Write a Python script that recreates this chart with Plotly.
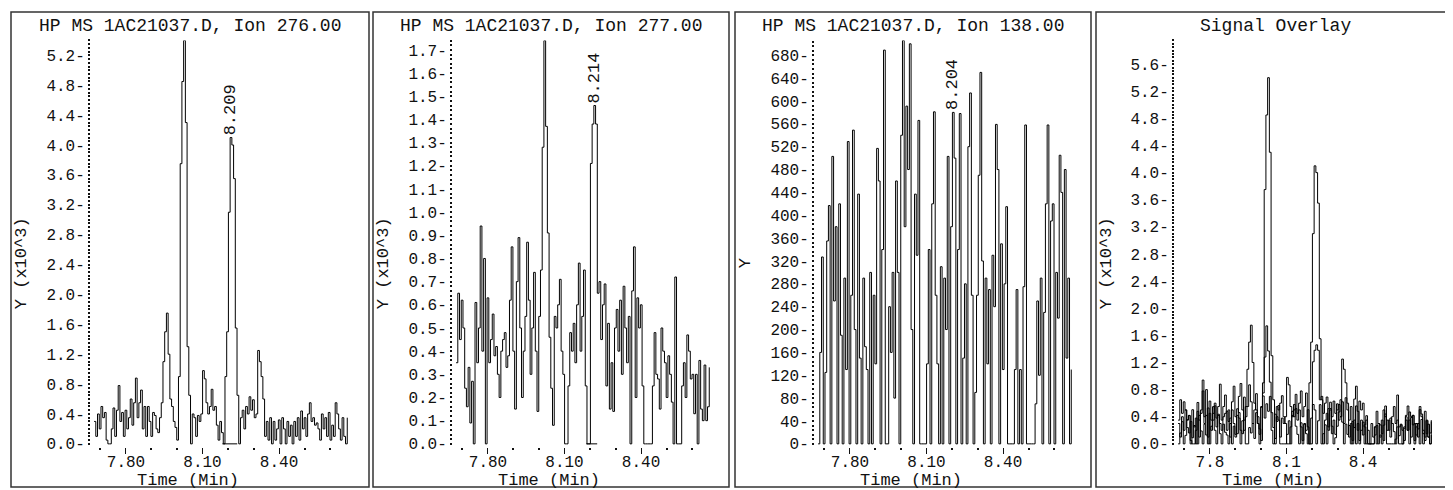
import plotly.graph_objects as go

# ---------------- data ----------------
t_start = 7.675        # first scan time (min)
t_step = 0.00675       # scan interval (min)

ion276 = [  # x10^3 counts
    0.3, 0.1, 0.4, 0.2, 0.5, 0.35, 0.42, 0.05, 0.0, 0.0,
    0.2, 0.48, 0.1, 0.45, 0.78, 0.3, 0.42, 0.1, 0.45, 0.2,
    0.35, 0.6, 0.25, 0.55, 0.88, 0.35, 0.55, 0.72, 0.2, 0.5,
    0.1, 0.5, 0.3, 0.1, 0.42, 0.38, 0.2, 0.15, 0.35, 0.55,
    1.1, 1.5, 1.75, 1.2, 0.6, 0.5, 0.3, 0.22, 0.05, 0.9,
    3.75, 4.85, 5.4, 4.3, 1.3, 0.65, 0.0, 0.4, 0.35, 0.1,
    0.38, 0.3, 0.4, 0.98, 0.87, 0.55, 0.4, 0.5, 0.73, 0.45,
    0.5, 0.25, 0.05, 0.3, 0.15, 0.0, 0.9, 1.5, 3.1, 4.1,
    4.0, 3.55, 1.55, 0.65, 0.0, 0.35, 0.45, 0.2, 0.5, 0.4,
    0.63, 0.45, 0.59, 0.35, 0.4, 1.25, 1.1, 0.9, 0.6, 0.1,
    0.3, 0.05, 0.35, 0.0, 0.3, 0.05, 0.2, 0.32, 0.0, 0.35,
    0.2, 0.0, 0.3, 0.1, 0.25, 0.0, 0.3, 0.1, 0.35, 0.05,
    0.44, 0.2, 0.35, 0.1, 0.4, 0.55, 0.3, 0.35, 0.25, 0.28,
    0.2, 0.05, 0.4, 0.2, 0.35, 0.1, 0.42, 0.05, 0.25, 0.1,
    0.55, 0.4, 0.2, 0.05, 0.35, 0.1, 0.0, 0.35,
]

ion277 = [  # x10^3 counts
    0.35, 0.65, 0.45, 0.62, 0.5, 0.24, 0.16, 0.33, 0.09, 0.27,
    0.0, 0.61, 0.35, 0.5, 0.94, 0.4, 0.8, 0.0, 0.63, 0.35,
    0.45, 0.56, 0.38, 0.42, 0.3, 0.2, 0.4, 0.45, 0.48, 0.33,
    0.38, 0.62, 0.85, 0.4, 0.15, 0.7, 0.89, 0.5, 0.2, 0.4,
    0.55, 0.87, 0.62, 0.3, 0.5, 0.74, 0.4, 0.14, 0.55, 0.75,
    1.28, 1.74, 1.37, 0.91, 0.46, 0.24, 0.08, 0.55, 0.5, 0.6,
    0.71, 0.4, 0.3, 0.0, 0.0, 0.25, 0.48, 0.4, 0.52, 0.35,
    0.6, 0.78, 0.4, 0.55, 0.75, 0.25, 0.0, 0.0, 1.21, 1.38,
    1.46, 1.38, 0.65, 0.7, 0.45, 0.6, 0.69, 0.25, 0.52, 0.15,
    0.35, 0.14, 0.5, 0.58, 0.4, 0.62, 0.3, 0.68, 0.5, 0.35,
    0.55, 0.0, 0.66, 0.85, 0.2, 0.63, 0.5, 0.6, 0.25, 0.0,
    0.0, 0.0, 0.0, 0.0, 0.25, 0.48, 0.3, 0.28, 0.15, 0.5,
    0.4, 0.35, 0.2, 0.38, 0.3, 0.18, 0.0, 0.72, 0.0, 0.0,
    0.0, 0.25, 0.35, 0.2, 0.47, 0.4, 0.28, 0.3, 0.13, 0.3,
    0.0, 0.36, 0.15, 0.1, 0.34, 0.1, 0.16, 0.33,
]

ion138 = [  # counts
    0, 160, 327, 0, 125, 355, 417, 0, 503, 250,
    380, 0, 420, 190, 0, 290, 130, 529, 0, 260,
    549, 200, 0, 437, 150, 0, 290, 170, 130, 0,
    300, 0, 260, 140, 517, 460, 0, 340, 689, 0,
    0, 240, 160, 300, 80, 460, 300, 0, 540, 706,
    380, 591, 480, 700, 200, 0, 437, 330, 566, 0,
    0, 0, 0, 140, 340, 0, 420, 581, 260, 140,
    0, 310, 0, 290, 200, 503, 0, 380, 580, 500,
    0, 340, 578, 0, 150, 280, 0, 520, 614, 260,
    0, 90, 260, 470, 650, 320, 0, 290, 140, 270,
    0, 330, 240, 559, 480, 0, 350, 130, 280, 415,
    0, 0, 0, 0, 130, 270, 0, 130, 0, 275,
    558, 0, 0, 0, 0, 0, 70, 250, 120, 290,
    0, 230, 420, 558, 0, 390, 420, 0, 300, 220,
    505, 440, 0, 480, 150, 290, 0, 130,
]

titles = ["HP MS 1AC21037.D, Ion 276.00", "HP MS 1AC21037.D, Ion 277.00",
          "HP MS 1AC21037.D, Ion 138.00", "Signal Overlay"]
y_titles = ["Y (x10^3)", "Y (x10^3)", "Y", "Y (x10^3)"]
x_title = "Time (Min)"

peak_rt = [8.209, 8.214, 8.204]            # labelled retention times
baseline_windows = [[8.178, 8.236], [8.185, 8.228], None]  # integration baselines

# ---------------- layout helpers ----------------
W, H = 1453, 490
FONT = "Liberation Mono"
INK = "#111111"


def fx(px):
    return px / W


def fy(py):
    return 1 - py / H


# panel geometry: box edges, y-axis x position
boxes = [(3, 361), (365, 721), (727, 1083), (1088, 1446)]
axis_x = [82, 444, 806, 1166]
plot_w = 260
y_top_px, y_zero_px, y_dom_bottom_px = 33, 444, 446
x_range = [7.659, 8.678]

y_tops = [5.4, 1.741, 706, 5.95]
y_dticks = [0.4, 0.1, 40, 0.4]
y_minor = [0.05, 0.02, 8, 0.05]
y_fmt = [".1f", ".1f", "d", ".1f"]
x_fmt = [".2f", ".2f", ".2f", ".1f"]

fig = go.Figure()

series_per_panel = [
    [ion276],
    [ion277],
    [ion138],
    [ion277, [v / 1000 for v in ion138], ion276],
]

for p in range(4):
    xa = "x" if p == 0 else f"x{p + 1}"
    ya = "y" if p == 0 else f"y{p + 1}"
    for s in series_per_panel[p]:
        fig.add_trace(go.Scatter(
            y=s, x0=t_start, dx=t_step, mode="lines",
            line=dict(color="black", width=1, shape="hv"),
            xaxis=xa, yaxis=ya, showlegend=False, hoverinfo="skip"))
    if p < 3 and baseline_windows[p] is not None:
        fig.add_trace(go.Scatter(
            x=baseline_windows[p], y=[0, 0], mode="lines",
            line=dict(color="black", width=1),
            xaxis=xa, yaxis=ya, showlegend=False, hoverinfo="skip"))

tickfont = dict(family=FONT, size=16, color=INK)

for p in range(4):
    x0 = axis_x[p]
    top = y_tops[p]
    unit_per_px = top / (y_zero_px - y_top_px)
    ymin = -(y_dom_bottom_px - y_zero_px) * unit_per_px
    xkey = "xaxis" if p == 0 else f"xaxis{p + 1}"
    ykey = "yaxis" if p == 0 else f"yaxis{p + 1}"
    yref = "y" if p == 0 else f"y{p + 1}"
    xref = "x" if p == 0 else f"x{p + 1}"
    fig.layout[xkey] = dict(
        domain=[fx(x0), fx(x0 + plot_w)], range=x_range,
        anchor="free", position=fy(447),
        tickmode="linear", tick0=7.8, dtick=0.3, tickformat=x_fmt[p],
        ticks="outside", ticklen=6, tickwidth=1.2, tickcolor=INK,
        ticklabelstandoff=-6,
        showgrid=False, zeroline=False, showline=False,
        tickfont=tickfont, fixedrange=True,
        minor=dict(tick0=7.8, dtick=0.1, ticks="outside", ticklen=2,
                   tickwidth=1.5, tickcolor=INK, showgrid=False),
    )
    fig.layout[ykey] = dict(
        domain=[fy(y_dom_bottom_px), fy(y_top_px)], range=[ymin, top],
        anchor="free", position=fx(x0),
        tickmode="linear", tick0=0, dtick=y_dticks[p], tickformat=y_fmt[p],
        ticksuffix="-",
        ticks="outside", ticklen=2, tickwidth=1.5, tickcolor=INK,
        showgrid=False, zeroline=False, showline=False,
        tickfont=tickfont, fixedrange=True,
        minor=dict(tick0=0, dtick=y_minor[p], ticks="outside", ticklen=2,
                   tickwidth=1.5, tickcolor=INK, showgrid=False),
    )

    bx0, bx1 = boxes[p]
    fig.add_shape(type="rect", xref="paper", yref="paper",
                  x0=fx(bx0), x1=fx(bx1), y0=fy(488), y1=fy(4),
                  line=dict(color="#333333", width=1.5))
    cx = (bx0 + bx1) / 2
    fig.add_annotation(text=titles[p], xref="paper", yref="paper",
                       x=fx(cx), y=fy(18), showarrow=False,
                       xanchor="center", yanchor="middle",
                       font=dict(family=FONT, size=18, color=INK))
    fig.add_annotation(text=x_title, xref="paper", yref="paper",
                       x=fx(cx - 2), y=fy(481), showarrow=False,
                       xanchor="center", yanchor="middle",
                       font=dict(family=FONT, size=17, color=INK))
    fig.add_annotation(text=y_titles[p], xref="paper", yref="paper",
                       x=fx(bx0 + 10), y=fy(260), showarrow=False,
                       textangle=-90, xanchor="center", yanchor="middle",
                       font=dict(family=FONT, size=17, color=INK))
    if p < 3:
        series = series_per_panel[p][0]
        idx = round((peak_rt[p] - t_start) / t_step)
        peak_val = max(series[max(0, idx - 2): idx + 3])
        fig.add_annotation(text=f"{peak_rt[p]:.3f}", xref=xref, yref=yref,
                           x=peak_rt[p], y=peak_val, showarrow=False,
                           textangle=-90, xanchor="center", yanchor="bottom",
                           font=dict(family=FONT, size=17, color=INK))

fig.update_layout(
    width=W, height=H, margin=dict(l=0, r=0, t=0, b=0),
    paper_bgcolor="white", plot_bgcolor="white",
    showlegend=False,
)

fig.write_html("out.html")
